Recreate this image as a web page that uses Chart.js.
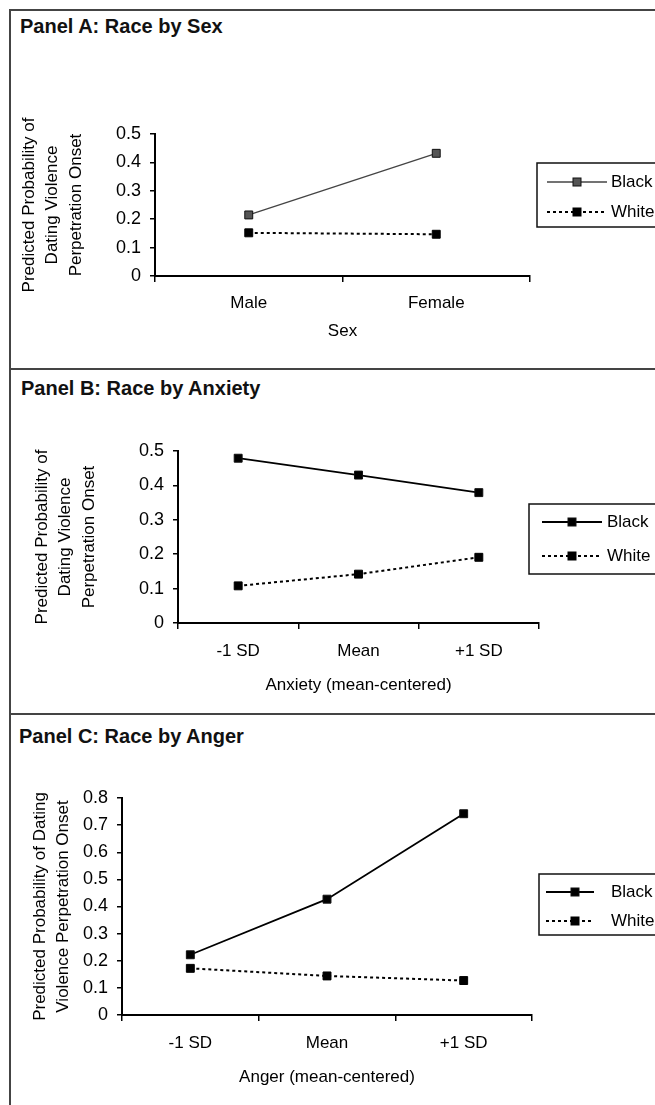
<!DOCTYPE html>
<html>
<head>
<meta charset="utf-8">
<script src="https://cdn.jsdelivr.net/npm/chart.js@4.4.0/dist/chart.umd.min.js"></script>
<style>
  body { margin: 0; background: #fff; width: 655px; height: 1105px; overflow: hidden; position: relative; font-family: "Liberation Sans", Arial, sans-serif; }
  .hline { position: absolute; left: 9px; width: 700px; height: 2px; background: #444; }
  .vline { position: absolute; left: 9px; top: 9px; width: 2px; height: 1100px; background: #444; }
  .title { position: absolute; font-weight: bold; font-size: 20px; line-height: 20px; color: #111; white-space: nowrap; }
  canvas { position: absolute; left: 0; }
</style>
</head>
<body>
<div class="hline" style="top:9px"></div>
<div class="hline" style="top:368px"></div>
<div class="hline" style="top:713px"></div>
<div class="vline"></div>
<div class="title" style="left:20px;top:16px">Panel A: Race by Sex</div>
<div class="title" style="left:21px;top:378px">Panel B: Race by Anxiety</div>
<div class="title" style="left:19px;top:726px">Panel C: Race by Anger</div>
<canvas id="chartA" width="655" height="367" style="top:0"></canvas>
<canvas id="chartB" width="655" height="345" style="top:368px"></canvas>
<canvas id="chartC" width="655" height="392" style="top:713px"></canvas>
<script>
// data
const sexCategories = ['Male', 'Female'];
const sexBlack = [0.215, 0.432];
const sexWhite = [0.152, 0.147];

const anxietyCategories = ['-1 SD', 'Mean', '+1 SD'];
const anxietyBlack = [0.479, 0.430, 0.379];
const anxietyWhite = [0.108, 0.142, 0.191];

const angerCategories = ['-1 SD', 'Mean', '+1 SD'];
const angerBlack = [0.222, 0.427, 0.742];
const angerWhite = [0.172, 0.144, 0.127];

const yTicksHalf = [0, 0.1, 0.2, 0.3, 0.4, 0.5];
const yTicksAnger = [0, 0.1, 0.2, 0.3, 0.4, 0.5, 0.6, 0.7, 0.8];

const FONT = '"Liberation Sans", Arial, sans-serif';

// boxed legend with line + marker samples, like the original
const boxLegend = {
  id: 'boxLegend',
  afterDraw(chart, args, o) {
    const ctx = chart.ctx;
    ctx.save();
    ctx.strokeStyle = '#111';
    ctx.lineWidth = 1.5;
    ctx.strokeRect(o.x, o.y, 300, o.h);
    chart.data.datasets.forEach((ds, i) => {
      const y = o.rows[i];
      ctx.beginPath();
      ctx.setLineDash(ds.borderDash || []);
      ctx.lineWidth = ds.borderWidth;
      ctx.strokeStyle = ds.borderColor;
      ctx.moveTo(o.lineX0, y);
      ctx.lineTo(o.lineX1, y);
      ctx.stroke();
      ctx.setLineDash([]);
      ctx.fillStyle = ds.pointBackgroundColor;
      ctx.fillRect(o.markX - 4, y - 4, 8, 8);
      ctx.strokeStyle = ds.pointBorderColor;
      ctx.lineWidth = 1;
      ctx.strokeRect(o.markX - 4, y - 4, 8, 8);
      ctx.fillStyle = '#000';
      ctx.font = '17px ' + FONT;
      ctx.textBaseline = 'middle';
      ctx.fillText(ds.label, o.textX, y);
    });
    ctx.restore();
  }
};

function makePanel(id, p) {
  const H = document.getElementById(id).height;
  const xHeight = 75;
  new Chart(document.getElementById(id), {
    type: 'line',
    data: {
      labels: p.labels,
      datasets: [{
        label: 'Black',
        data: p.black,
        borderColor: p.blackLine,
        borderWidth: p.blackWidth,
        pointStyle: 'rect',
        pointRadius: 5.6,
        pointBackgroundColor: p.blackFill,
        pointBorderColor: '#111',
        pointBorderWidth: 1
      }, {
        label: 'White',
        data: p.white,
        borderColor: '#000',
        borderWidth: 2,
        borderDash: [3, 3],
        pointStyle: 'rect',
        pointRadius: 5.6,
        pointBackgroundColor: '#000',
        pointBorderColor: '#000',
        pointBorderWidth: 1
      }]
    },
    options: {
      responsive: false,
      animation: false,
      layout: {
        padding: { left: 12, top: p.top, right: 655 - p.right, bottom: H - p.bottom - xHeight }
      },
      plugins: {
        legend: { display: false },
        tooltip: { enabled: false },
        boxLegend: p.legend
      },
      scales: {
        x: {
          offset: true,
          afterFit: s => { s.height = xHeight; },
          ticks: { color: '#000', font: { size: 17, family: FONT }, padding: p.xPad, maxRotation: 0 },
          grid: { offset: true, drawOnChartArea: false, tickLength: 6, color: '#000', lineWidth: 1.5 },
          border: { color: '#000', width: 2 },
          title: { display: true, text: p.xTitle, color: '#000', font: { size: 17, family: FONT, lineHeight: 1.2 }, padding: { top: 0, bottom: p.xTitlePad } }
        },
        y: {
          min: 0,
          max: p.yTicks[p.yTicks.length - 1],
          afterFit: s => { s.width = p.left - 12; },
          afterBuildTicks: s => { s.ticks = p.yTicks.map(v => ({ value: v })); },
          ticks: { color: '#000', font: { size: 18, family: FONT }, padding: 9, callback: v => v === 0 ? '0' : v.toFixed(1) },
          grid: { drawOnChartArea: false, tickLength: 5, color: '#000', lineWidth: 1.5 },
          border: { color: '#000', width: 2 },
          title: { display: true, text: p.yTitle, color: '#000', font: { size: 17, family: FONT, lineHeight: 1.4 }, padding: { top: p.yTitlePad, bottom: 0 } }
        }
      }
    },
    plugins: [boxLegend]
  });
}

makePanel('chartA', {
  labels: sexCategories, black: sexBlack, white: sexWhite,
  blackLine: '#444', blackWidth: 1.3, blackFill: '#555',
  left: 155, right: 530, top: 134, bottom: 276,
  yTicks: yTicksHalf, xPad: 11, xTitlePad: 9.8, yTitlePad: 5,
  xTitle: 'Sex',
  yTitle: ['Predicted Probability of', 'Dating Violence', 'Perpetration Onset'],
  legend: { x: 537, y: 163, h: 64, rows: [182, 212], lineX0: 547, lineX1: 607, markX: 577, textX: 611 }
});

makePanel('chartB', {
  labels: anxietyCategories, black: anxietyBlack, white: anxietyWhite,
  blackLine: '#000', blackWidth: 1.8, blackFill: '#000',
  left: 178, right: 539, top: 83, bottom: 255,
  yTicks: yTicksHalf, xPad: 12, xTitlePad: 2.8, yTitlePad: 18,
  xTitle: 'Anxiety (mean-centered)',
  yTitle: ['Predicted Probability of', 'Dating Violence', 'Perpetration Onset'],
  legend: { x: 529, y: 136, h: 70, rows: [154, 188], lineX0: 542, lineX1: 602, markX: 572, textX: 607 }
});

makePanel('chartC', {
  labels: angerCategories, black: angerBlack, white: angerWhite,
  blackLine: '#000', blackWidth: 1.8, blackFill: '#000',
  left: 122, right: 532, top: 85, bottom: 302,
  yTicks: yTicksAnger, xPad: 12, xTitlePad: 2.8, yTitlePad: 16,
  xTitle: 'Anger (mean-centered)',
  yTitle: ['Predicted Probability of Dating', 'Violence Perpetration Onset'],
  legend: { x: 539, y: 161, h: 61, rows: [179, 208], lineX0: 546, lineX1: 594, markX: 575, textX: 611 }
});
</script>
</body>
</html>
